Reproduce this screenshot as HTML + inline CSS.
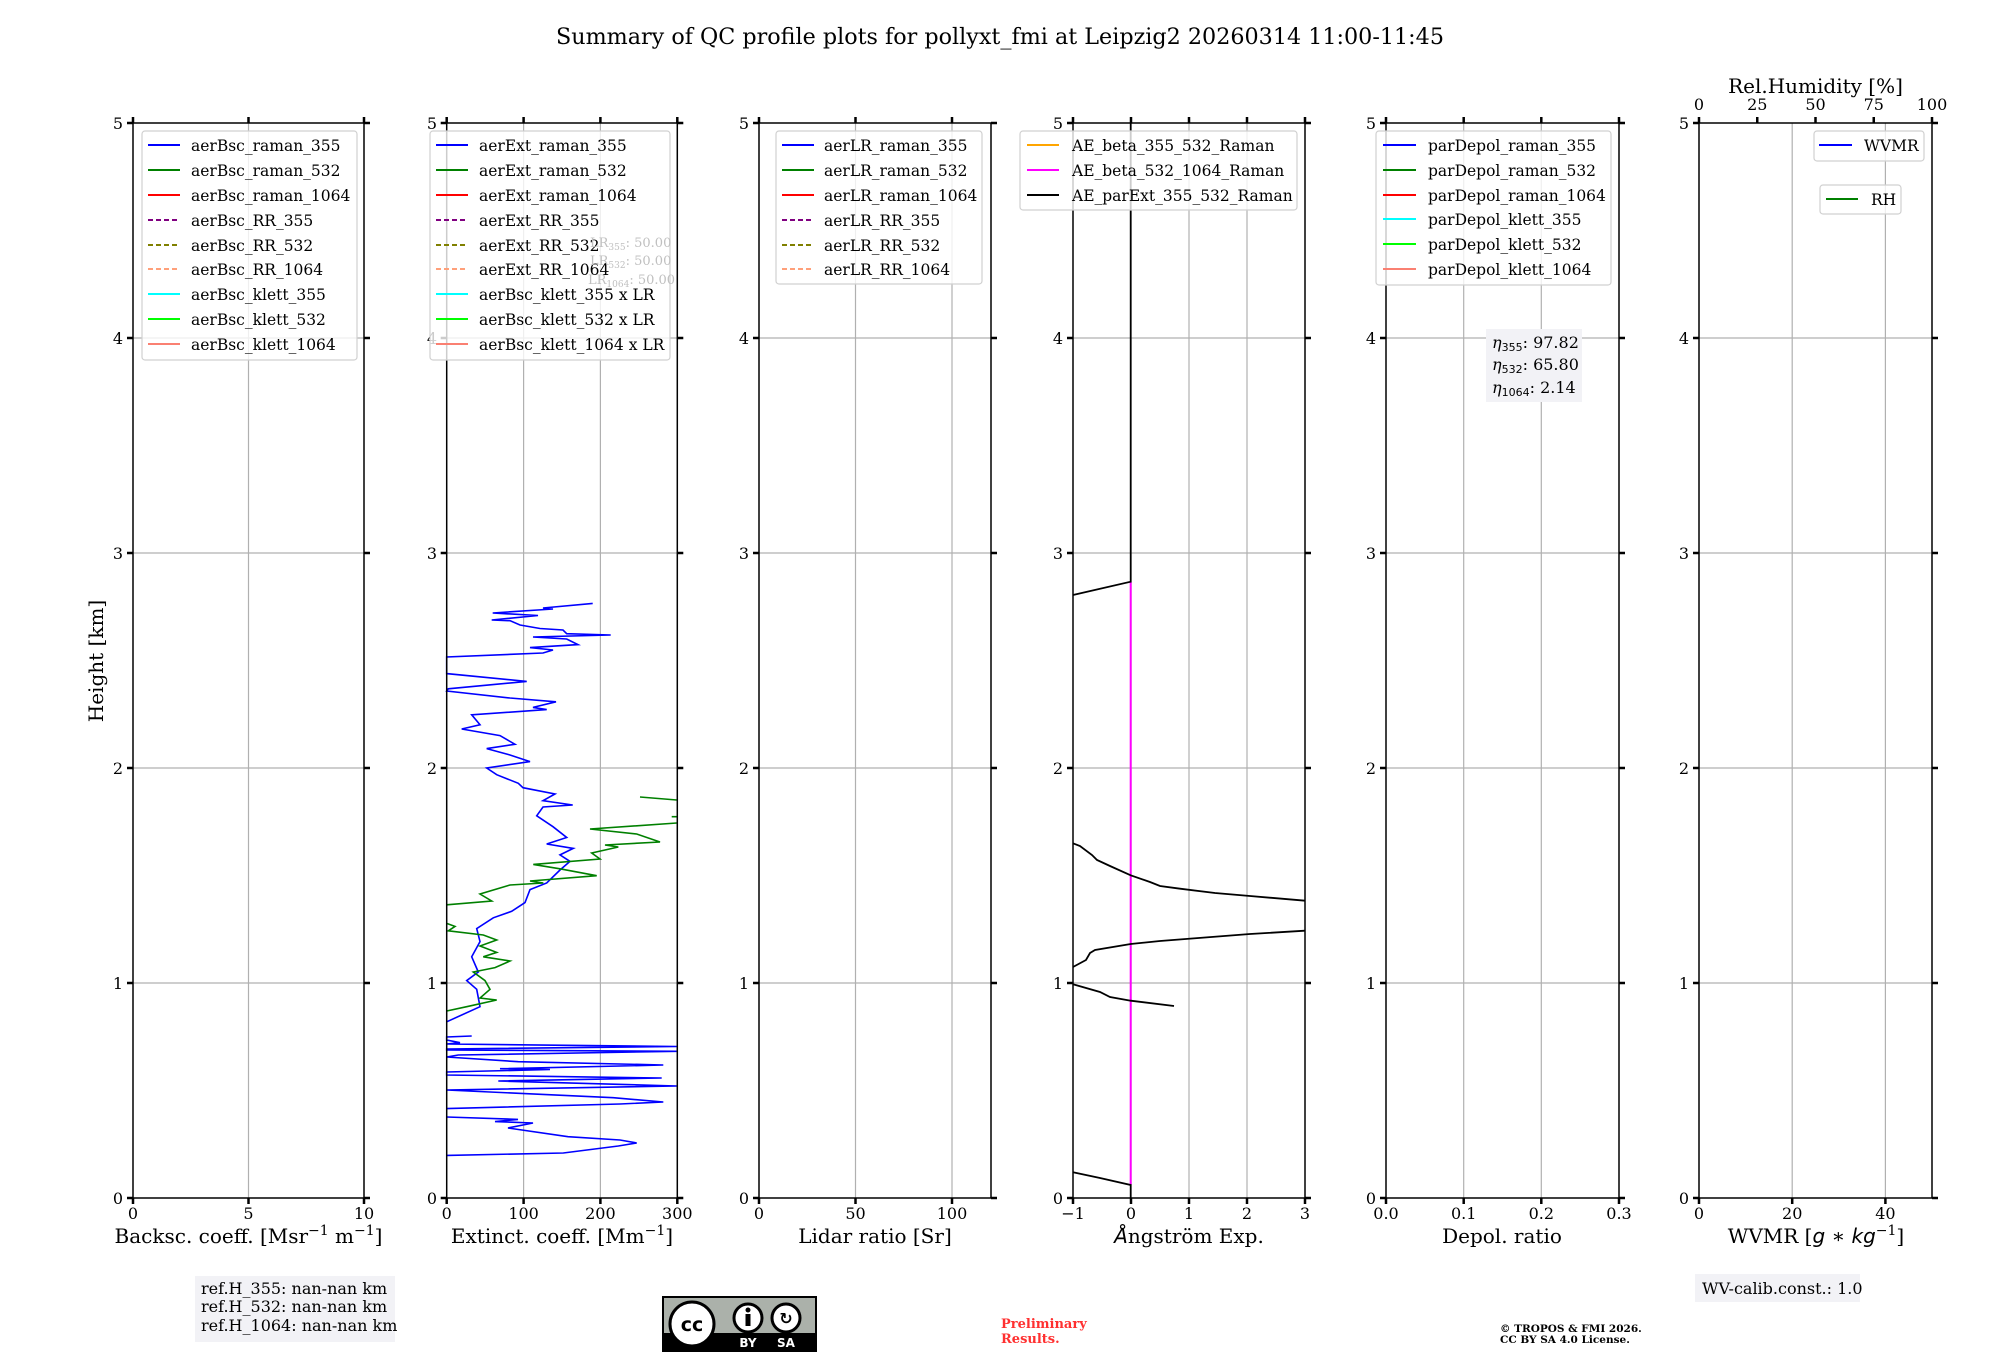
<!DOCTYPE html>
<html><head><meta charset="utf-8"><style>
html,body{margin:0;padding:0;background:#fff;}
svg{display:block;font-family:"DejaVu Serif","Liberation Serif",serif;}
.g{stroke:#b0b0b0;stroke-width:1.2;}
.sp{stroke:#000;stroke-width:1.5;fill:none;}
.tk{stroke:#000;stroke-width:2.5;}
.tl{font-size:16px;fill:#000;}
.lg{font-size:15.5px;fill:#000;}
.lb{fill:rgba(255,255,255,0.8);stroke:#d0d0d0;stroke-width:1.2;}
</style></head><body>
<svg width="2000" height="1360" viewBox="0 0 2000 1360" xmlns="http://www.w3.org/2000/svg">
<rect width="2000" height="1360" fill="#fff"/>
<text x="1000" y="44" text-anchor="middle" font-size="22" textLength="888" lengthAdjust="spacingAndGlyphs">Summary of QC profile plots for pollyxt_fmi at Leipzig2 20260314 11:00-11:45</text>
<text transform="translate(103,661) rotate(-90)" text-anchor="middle" font-size="20">Height [km]</text>

<!-- Panel 1 -->
<g>
<line class="g" x1="248.5" y1="123" x2="248.5" y2="1198"/>
<g class="g"><line x1="133" y1="983" x2="364" y2="983"/><line x1="133" y1="768" x2="364" y2="768"/><line x1="133" y1="553" x2="364" y2="553"/><line x1="133" y1="338" x2="364" y2="338"/></g>
<rect class="sp" x="133" y="123" width="231" height="1075"/>
<g class="tk">
<line x1="127" y1="1198" x2="133" y2="1198"/><line x1="127" y1="983" x2="133" y2="983"/><line x1="127" y1="768" x2="133" y2="768"/><line x1="127" y1="553" x2="133" y2="553"/><line x1="127" y1="338" x2="133" y2="338"/><line x1="127" y1="123" x2="133" y2="123"/>
<line x1="364" y1="1198" x2="370" y2="1198"/><line x1="364" y1="983" x2="370" y2="983"/><line x1="364" y1="768" x2="370" y2="768"/><line x1="364" y1="553" x2="370" y2="553"/><line x1="364" y1="338" x2="370" y2="338"/><line x1="364" y1="123" x2="370" y2="123"/>
<line x1="133" y1="1198" x2="133" y2="1204"/><line x1="248.5" y1="1198" x2="248.5" y2="1204"/><line x1="364" y1="1198" x2="364" y2="1204"/>
<line x1="133" y1="117" x2="133" y2="123"/><line x1="248.5" y1="117" x2="248.5" y2="123"/><line x1="364" y1="117" x2="364" y2="123"/>
</g>
<g class="tl" text-anchor="end"><text x="123" y="1204">0</text><text x="123" y="989">1</text><text x="123" y="774">2</text><text x="123" y="559">3</text><text x="123" y="344">4</text><text x="123" y="129">5</text></g>
<g class="tl" text-anchor="middle"><text x="133" y="1219">0</text><text x="248.5" y="1219">5</text><text x="364" y="1219">10</text></g>
<text x="248.5" y="1243" text-anchor="middle" font-size="20">Backsc. coeff. [Msr<tspan dy="-8" font-size="14">−1</tspan><tspan dy="8"> m</tspan><tspan dy="-8" font-size="14">−1</tspan><tspan dy="8">]</tspan></text>
<rect class="lb" x="142" y="131" width="215" height="229" rx="3"/>
<g stroke-width="2">
<line x1="148" y1="145" x2="180" y2="145" stroke="#0000ff"/>
<line x1="148" y1="170" x2="180" y2="170" stroke="#008000"/>
<line x1="148" y1="195" x2="180" y2="195" stroke="#ff0000"/>
<line x1="148" y1="220" x2="180" y2="220" stroke="#800080" stroke-dasharray="5,3"/>
<line x1="148" y1="245" x2="180" y2="245" stroke="#808000" stroke-dasharray="5,3"/>
<line x1="148" y1="269" x2="180" y2="269" stroke="#ffa07a" stroke-dasharray="5,3"/>
<line x1="148" y1="294" x2="180" y2="294" stroke="#00ffff"/>
<line x1="148" y1="319" x2="180" y2="319" stroke="#00ff00"/>
<line x1="148" y1="344" x2="180" y2="344" stroke="#fa8072"/>
</g>
<g class="lg"><text x="191" y="151">aerBsc_raman_355</text><text x="191" y="176">aerBsc_raman_532</text><text x="191" y="201">aerBsc_raman_1064</text><text x="191" y="226">aerBsc_RR_355</text><text x="191" y="251">aerBsc_RR_532</text><text x="191" y="275">aerBsc_RR_1064</text><text x="191" y="300">aerBsc_klett_355</text><text x="191" y="325">aerBsc_klett_532</text><text x="191" y="350">aerBsc_klett_1064</text></g>
</g>

<!-- Panel 2 -->
<g>
<g class="g"><line x1="523.6" y1="123" x2="523.6" y2="1198"/><line x1="600.4" y1="123" x2="600.4" y2="1198"/>
<line x1="446.7" y1="983" x2="677.3" y2="983"/><line x1="446.7" y1="768" x2="677.3" y2="768"/><line x1="446.7" y1="553" x2="677.3" y2="553"/><line x1="446.7" y1="338" x2="677.3" y2="338"/></g>
<polyline fill="none" stroke="#0000ff" stroke-width="1.6" points="592.7,603.4 543,608 553,609 492.7,613 538,615.5 491.7,620 510,620.7 520,625 540,628.5 563,630 566.7,633.7 610.7,635 533,637 566.7,639 578,644.6 530,647.6 553,650 543,653 446.7,657 446.7,673.6 526.7,681.4 448.3,688.8 446.7,691 510,698 556,701.8 533,707.4 546.7,709.6 471.7,714.8 480,724.8 461.7,729 500,735.6 515,744.3 486.7,748.6 510,755 530,761.6 486.7,768 496.7,774.7 518.3,783.3 523,787.7 555,794 543,800.7 572.7,805 543,807 536.7,815.8 553,826.7 566.7,837.5 546.7,844 573.3,848.4 560,854.9 570,861.4 560,870 546.7,883 530,889.6 525,902.6 511.7,911.3 493.3,917.8 476.7,928.6 480,941.6 471.7,956.8 478.3,972 466.7,980.6 476.7,989.3 480,1006.7 446.7,1021.8"/>
<polyline fill="none" stroke="#0000ff" stroke-width="1.6" points="471.7,1036 446.7,1037 446.7,1040 460,1042.7 446.7,1044 676.7,1046.5 446.7,1049 446.7,1050 676.7,1051.3 458.3,1055 446.7,1057 518.3,1061.7 663.3,1065 500,1068.7 550,1069.5 446.7,1072 446.7,1075 661.7,1078 498.3,1081 676.7,1086 446.7,1090 613.3,1097.7 663.3,1102 620,1104 446.7,1108.6"/>
<polyline fill="none" stroke="#0000ff" stroke-width="1.6" points="446.7,1117 518,1119.4 495,1121.6 533,1123 508,1128 568,1136.7 620,1140 636.7,1143 618.3,1146 563.3,1153 446.7,1155.4"/>
<polyline fill="none" stroke="#008000" stroke-width="1.6" points="640,797 676.7,800"/>
<polyline fill="none" stroke="#008000" stroke-width="1.6" points="671.7,816.7 676.7,816.7"/>
<polyline fill="none" stroke="#008000" stroke-width="1.6" points="676.7,823 590,829 636.7,834 660,842 605,845 618.3,847 591.7,853 600,859 533.3,864.4 560,868.8 596.7,875.7 530,881 543.3,883 510,885 480,894 491.7,901 446.7,904.8"/>
<polyline fill="none" stroke="#008000" stroke-width="1.6" points="446.7,923.4 455,926.4 448.3,930.8 483.3,935 496.7,940 480,946 496.7,952.4 483.3,956.8 510,961 495,967.6 473.3,972 485,980.6 490,989.3 480,998 496.7,1000 466.7,1006.7 446.7,1011"/>
<rect class="sp" x="446.7" y="123" width="230.6" height="1075"/>
<g class="tk">
<line x1="440.7" y1="1198" x2="446.7" y2="1198"/><line x1="440.7" y1="983" x2="446.7" y2="983"/><line x1="440.7" y1="768" x2="446.7" y2="768"/><line x1="440.7" y1="553" x2="446.7" y2="553"/><line x1="440.7" y1="338" x2="446.7" y2="338"/><line x1="440.7" y1="123" x2="446.7" y2="123"/>
<line x1="677.3" y1="1198" x2="683.3" y2="1198"/><line x1="677.3" y1="983" x2="683.3" y2="983"/><line x1="677.3" y1="768" x2="683.3" y2="768"/><line x1="677.3" y1="553" x2="683.3" y2="553"/><line x1="677.3" y1="338" x2="683.3" y2="338"/><line x1="677.3" y1="123" x2="683.3" y2="123"/>
<line x1="446.7" y1="1198" x2="446.7" y2="1204"/><line x1="523.6" y1="1198" x2="523.6" y2="1204"/><line x1="600.4" y1="1198" x2="600.4" y2="1204"/><line x1="677.3" y1="1198" x2="677.3" y2="1204"/>
<line x1="446.7" y1="117" x2="446.7" y2="123"/><line x1="523.6" y1="117" x2="523.6" y2="123"/><line x1="600.4" y1="117" x2="600.4" y2="123"/><line x1="677.3" y1="117" x2="677.3" y2="123"/>
</g>
<g class="tl" text-anchor="end"><text x="437" y="1204">0</text><text x="437" y="989">1</text><text x="437" y="774">2</text><text x="437" y="559">3</text><text x="437" y="344">4</text><text x="437" y="129">5</text></g>
<g class="tl" text-anchor="middle"><text x="446.7" y="1219">0</text><text x="523.6" y="1219">100</text><text x="600.4" y="1219">200</text><text x="677.3" y="1219">300</text></g>
<text x="562" y="1243" text-anchor="middle" font-size="20">Extinct. coeff. [Mm<tspan dy="-8" font-size="14">−1</tspan><tspan dy="8">]</tspan></text>
<rect class="lb" x="430" y="131" width="240" height="229" rx="3"/>
<g stroke-width="2">
<line x1="436" y1="145" x2="468" y2="145" stroke="#0000ff"/>
<line x1="436" y1="170" x2="468" y2="170" stroke="#008000"/>
<line x1="436" y1="195" x2="468" y2="195" stroke="#ff0000"/>
<line x1="436" y1="220" x2="468" y2="220" stroke="#800080" stroke-dasharray="5,3"/>
<line x1="436" y1="245" x2="468" y2="245" stroke="#808000" stroke-dasharray="5,3"/>
<line x1="436" y1="269" x2="468" y2="269" stroke="#ffa07a" stroke-dasharray="5,3"/>
<line x1="436" y1="294" x2="468" y2="294" stroke="#00ffff"/>
<line x1="436" y1="319" x2="468" y2="319" stroke="#00ff00"/>
<line x1="436" y1="344" x2="468" y2="344" stroke="#fa8072"/>
</g>
<g class="lg"><text x="479" y="151">aerExt_raman_355</text><text x="479" y="176">aerExt_raman_532</text><text x="479" y="201">aerExt_raman_1064</text><text x="479" y="226">aerExt_RR_355</text><text x="479" y="251">aerExt_RR_532</text><text x="479" y="275">aerExt_RR_1064</text><text x="479" y="300">aerBsc_klett_355 x LR</text><text x="479" y="325">aerBsc_klett_532 x LR</text><text x="479" y="350">aerBsc_klett_1064 x LR</text></g>
<g font-size="13" fill="#c0c0c0"><text x="590" y="247">LR<tspan font-size="9" dy="3">355</tspan><tspan dy="-3">: 50.00</tspan></text><text x="590" y="265">LR<tspan font-size="9" dy="3">532</tspan><tspan dy="-3">: 50.00</tspan></text><text x="588" y="284">LR<tspan font-size="9" dy="3">1064</tspan><tspan dy="-3">: 50.00</tspan></text></g>
</g>

<!-- Panel 3 -->
<g>
<g class="g"><line x1="855.5" y1="123" x2="855.5" y2="1198"/><line x1="952" y1="123" x2="952" y2="1198"/>
<line x1="759" y1="983" x2="991" y2="983"/><line x1="759" y1="768" x2="991" y2="768"/><line x1="759" y1="553" x2="991" y2="553"/><line x1="759" y1="338" x2="991" y2="338"/></g>
<rect class="sp" x="759" y="123" width="232" height="1075"/>
<g class="tk">
<line x1="753" y1="1198" x2="759" y2="1198"/><line x1="753" y1="983" x2="759" y2="983"/><line x1="753" y1="768" x2="759" y2="768"/><line x1="753" y1="553" x2="759" y2="553"/><line x1="753" y1="338" x2="759" y2="338"/><line x1="753" y1="123" x2="759" y2="123"/>
<line x1="991" y1="1198" x2="997" y2="1198"/><line x1="991" y1="983" x2="997" y2="983"/><line x1="991" y1="768" x2="997" y2="768"/><line x1="991" y1="553" x2="997" y2="553"/><line x1="991" y1="338" x2="997" y2="338"/><line x1="991" y1="123" x2="997" y2="123"/>
<line x1="759" y1="1198" x2="759" y2="1204"/><line x1="855.5" y1="1198" x2="855.5" y2="1204"/><line x1="952" y1="1198" x2="952" y2="1204"/>
<line x1="759" y1="117" x2="759" y2="123"/><line x1="855.5" y1="117" x2="855.5" y2="123"/><line x1="952" y1="117" x2="952" y2="123"/>
</g>
<g class="tl" text-anchor="end"><text x="749" y="1204">0</text><text x="749" y="989">1</text><text x="749" y="774">2</text><text x="749" y="559">3</text><text x="749" y="344">4</text><text x="749" y="129">5</text></g>
<g class="tl" text-anchor="middle"><text x="759" y="1219">0</text><text x="855.5" y="1219">50</text><text x="952" y="1219">100</text></g>
<text x="875" y="1243" text-anchor="middle" font-size="20">Lidar ratio [Sr]</text>
<rect class="lb" x="776" y="131" width="206" height="153" rx="3"/>
<g stroke-width="2">
<line x1="782" y1="145" x2="814" y2="145" stroke="#0000ff"/>
<line x1="782" y1="170" x2="814" y2="170" stroke="#008000"/>
<line x1="782" y1="195" x2="814" y2="195" stroke="#ff0000"/>
<line x1="782" y1="220" x2="814" y2="220" stroke="#800080" stroke-dasharray="5,3"/>
<line x1="782" y1="245" x2="814" y2="245" stroke="#808000" stroke-dasharray="5,3"/>
<line x1="782" y1="269" x2="814" y2="269" stroke="#ffa07a" stroke-dasharray="5,3"/>
</g>
<g class="lg"><text x="824" y="151">aerLR_raman_355</text><text x="824" y="176">aerLR_raman_532</text><text x="824" y="201">aerLR_raman_1064</text><text x="824" y="226">aerLR_RR_355</text><text x="824" y="251">aerLR_RR_532</text><text x="824" y="275">aerLR_RR_1064</text></g>
</g>

<!-- Panel 4 -->
<g>
<g class="g"><line x1="1131" y1="123" x2="1131" y2="1198"/><line x1="1189" y1="123" x2="1189" y2="1198"/><line x1="1247" y1="123" x2="1247" y2="1198"/>
<line x1="1073" y1="983" x2="1305" y2="983"/><line x1="1073" y1="768" x2="1305" y2="768"/><line x1="1073" y1="553" x2="1305" y2="553"/><line x1="1073" y1="338" x2="1305" y2="338"/></g>
<line x1="1130.7" y1="582" x2="1130.7" y2="1185" stroke="#ff00ff" stroke-width="2"/>
<g fill="none" stroke="#000" stroke-width="1.8">
<polyline points="1130.7,123 1130.7,581.7 1073,595"/>
<polyline points="1073,843.3 1080,846 1092,855 1097,860 1110,866 1130.7,875.3 1150,882 1160,886 1180,888.7 1215,893 1250,896 1305,900.7"/>
<polyline points="1305,930.7 1250,934 1160,941 1130.7,944 1095,950 1090,953 1086,960 1073,967"/>
<polyline points="1073,984.3 1100,992 1110,997 1130.7,1000.7 1174,1006"/>
<polyline points="1073,1172.3 1100,1178 1130.7,1185 1130.7,1198"/>
</g>
<rect class="sp" x="1073" y="123" width="232" height="1075"/>
<g class="tk">
<line x1="1067" y1="1198" x2="1073" y2="1198"/><line x1="1067" y1="983" x2="1073" y2="983"/><line x1="1067" y1="768" x2="1073" y2="768"/><line x1="1067" y1="553" x2="1073" y2="553"/><line x1="1067" y1="338" x2="1073" y2="338"/><line x1="1067" y1="123" x2="1073" y2="123"/>
<line x1="1305" y1="1198" x2="1311" y2="1198"/><line x1="1305" y1="983" x2="1311" y2="983"/><line x1="1305" y1="768" x2="1311" y2="768"/><line x1="1305" y1="553" x2="1311" y2="553"/><line x1="1305" y1="338" x2="1311" y2="338"/><line x1="1305" y1="123" x2="1311" y2="123"/>
<line x1="1073" y1="1198" x2="1073" y2="1204"/><line x1="1131" y1="1198" x2="1131" y2="1204"/><line x1="1189" y1="1198" x2="1189" y2="1204"/><line x1="1247" y1="1198" x2="1247" y2="1204"/><line x1="1305" y1="1198" x2="1305" y2="1204"/>
<line x1="1073" y1="117" x2="1073" y2="123"/><line x1="1131" y1="117" x2="1131" y2="123"/><line x1="1189" y1="117" x2="1189" y2="123"/><line x1="1247" y1="117" x2="1247" y2="123"/><line x1="1305" y1="117" x2="1305" y2="123"/>
</g>
<g class="tl" text-anchor="end"><text x="1063" y="1204">0</text><text x="1063" y="989">1</text><text x="1063" y="774">2</text><text x="1063" y="559">3</text><text x="1063" y="344">4</text><text x="1063" y="129">5</text></g>
<g class="tl" text-anchor="middle"><text x="1073" y="1219">−1</text><text x="1131" y="1219">0</text><text x="1189" y="1219">1</text><text x="1247" y="1219">2</text><text x="1305" y="1219">3</text></g>
<text x="1189" y="1243" text-anchor="middle" font-size="20"><tspan font-style="italic" font-family="DejaVu Sans, sans-serif">Å</tspan>ngström Exp.</text>
<rect class="lb" x="1020" y="131" width="277" height="79" rx="3"/>
<g stroke-width="2">
<line x1="1027" y1="145" x2="1059" y2="145" stroke="#ffa500"/>
<line x1="1027" y1="170" x2="1059" y2="170" stroke="#ff00ff"/>
<line x1="1027" y1="195" x2="1059" y2="195" stroke="#000"/>
</g>
<g class="lg"><text x="1072" y="151">AE_beta_355_532_Raman</text><text x="1072" y="176">AE_beta_532_1064_Raman</text><text x="1072" y="201">AE_parExt_355_532_Raman</text></g>
</g>

<!-- Panel 5 -->
<g>
<g class="g"><line x1="1463.7" y1="123" x2="1463.7" y2="1198"/><line x1="1541.3" y1="123" x2="1541.3" y2="1198"/>
<line x1="1386" y1="983" x2="1619" y2="983"/><line x1="1386" y1="768" x2="1619" y2="768"/><line x1="1386" y1="553" x2="1619" y2="553"/><line x1="1386" y1="338" x2="1619" y2="338"/></g>
<rect class="sp" x="1386" y="123" width="233" height="1075"/>
<g class="tk">
<line x1="1380" y1="1198" x2="1386" y2="1198"/><line x1="1380" y1="983" x2="1386" y2="983"/><line x1="1380" y1="768" x2="1386" y2="768"/><line x1="1380" y1="553" x2="1386" y2="553"/><line x1="1380" y1="338" x2="1386" y2="338"/><line x1="1380" y1="123" x2="1386" y2="123"/>
<line x1="1619" y1="1198" x2="1625" y2="1198"/><line x1="1619" y1="983" x2="1625" y2="983"/><line x1="1619" y1="768" x2="1625" y2="768"/><line x1="1619" y1="553" x2="1625" y2="553"/><line x1="1619" y1="338" x2="1625" y2="338"/><line x1="1619" y1="123" x2="1625" y2="123"/>
<line x1="1386" y1="1198" x2="1386" y2="1204"/><line x1="1463.7" y1="1198" x2="1463.7" y2="1204"/><line x1="1541.3" y1="1198" x2="1541.3" y2="1204"/><line x1="1619" y1="1198" x2="1619" y2="1204"/>
<line x1="1386" y1="117" x2="1386" y2="123"/><line x1="1463.7" y1="117" x2="1463.7" y2="123"/><line x1="1541.3" y1="117" x2="1541.3" y2="123"/><line x1="1619" y1="117" x2="1619" y2="123"/>
</g>
<g class="tl" text-anchor="end"><text x="1376" y="1204">0</text><text x="1376" y="989">1</text><text x="1376" y="774">2</text><text x="1376" y="559">3</text><text x="1376" y="344">4</text><text x="1376" y="129">5</text></g>
<g class="tl" text-anchor="middle"><text x="1386" y="1219">0.0</text><text x="1463.7" y="1219">0.1</text><text x="1541.3" y="1219">0.2</text><text x="1619" y="1219">0.3</text></g>
<text x="1502" y="1243" text-anchor="middle" font-size="20">Depol. ratio</text>
<rect class="lb" x="1376" y="131" width="235" height="154" rx="3"/>
<g stroke-width="2">
<line x1="1383" y1="145" x2="1416" y2="145" stroke="#0000ff"/>
<line x1="1383" y1="170" x2="1416" y2="170" stroke="#008000"/>
<line x1="1383" y1="195" x2="1416" y2="195" stroke="#ff0000"/>
<line x1="1383" y1="219" x2="1416" y2="219" stroke="#00ffff"/>
<line x1="1383" y1="244" x2="1416" y2="244" stroke="#00ff00"/>
<line x1="1383" y1="269" x2="1416" y2="269" stroke="#fa8072"/>
</g>
<g class="lg"><text x="1428" y="151">parDepol_raman_355</text><text x="1428" y="176">parDepol_raman_532</text><text x="1428" y="201">parDepol_raman_1064</text><text x="1428" y="225">parDepol_klett_355</text><text x="1428" y="250">parDepol_klett_532</text><text x="1428" y="275">parDepol_klett_1064</text></g>
<rect x="1486" y="329" width="96" height="73" fill="#f2f2f6"/>
<g font-size="16"><text x="1492" y="348"><tspan font-style="italic">η</tspan><tspan font-size="11" dy="3" font-family="DejaVu Sans">355</tspan><tspan dy="-3">: 97.82</tspan></text>
<text x="1492" y="370"><tspan font-style="italic">η</tspan><tspan font-size="11" dy="3" font-family="DejaVu Sans">532</tspan><tspan dy="-3">: 65.80</tspan></text>
<text x="1492" y="393"><tspan font-style="italic">η</tspan><tspan font-size="11" dy="3" font-family="DejaVu Sans">1064</tspan><tspan dy="-3">: 2.14</tspan></text></g>
</g>

<!-- Panel 6 -->
<g>
<g class="g"><line x1="1792.2" y1="123" x2="1792.2" y2="1198"/><line x1="1885.4" y1="123" x2="1885.4" y2="1198"/>
<line x1="1699" y1="983" x2="1932" y2="983"/><line x1="1699" y1="768" x2="1932" y2="768"/><line x1="1699" y1="553" x2="1932" y2="553"/><line x1="1699" y1="338" x2="1932" y2="338"/></g>
<rect class="sp" x="1699" y="123" width="233" height="1075"/>
<g class="tk">
<line x1="1693" y1="1198" x2="1699" y2="1198"/><line x1="1693" y1="983" x2="1699" y2="983"/><line x1="1693" y1="768" x2="1699" y2="768"/><line x1="1693" y1="553" x2="1699" y2="553"/><line x1="1693" y1="338" x2="1699" y2="338"/><line x1="1693" y1="123" x2="1699" y2="123"/>
<line x1="1932" y1="1198" x2="1938" y2="1198"/><line x1="1932" y1="983" x2="1938" y2="983"/><line x1="1932" y1="768" x2="1938" y2="768"/><line x1="1932" y1="553" x2="1938" y2="553"/><line x1="1932" y1="338" x2="1938" y2="338"/><line x1="1932" y1="123" x2="1938" y2="123"/>
<line x1="1699" y1="1198" x2="1699" y2="1204"/><line x1="1792.2" y1="1198" x2="1792.2" y2="1204"/><line x1="1885.4" y1="1198" x2="1885.4" y2="1204"/>
<line x1="1699" y1="117" x2="1699" y2="123"/><line x1="1757.25" y1="117" x2="1757.25" y2="123"/><line x1="1815.5" y1="117" x2="1815.5" y2="123"/><line x1="1873.75" y1="117" x2="1873.75" y2="123"/><line x1="1932" y1="117" x2="1932" y2="123"/>
</g>
<g class="tl" text-anchor="end"><text x="1689" y="1204">0</text><text x="1689" y="989">1</text><text x="1689" y="774">2</text><text x="1689" y="559">3</text><text x="1689" y="344">4</text><text x="1689" y="129">5</text></g>
<g class="tl" text-anchor="middle"><text x="1699" y="1219">0</text><text x="1792.2" y="1219">20</text><text x="1885.4" y="1219">40</text></g>
<g class="tl" text-anchor="middle"><text x="1699" y="110">0</text><text x="1757.25" y="110">25</text><text x="1815.5" y="110">50</text><text x="1873.75" y="110">75</text><text x="1932" y="110">100</text></g>
<text x="1815.5" y="93" text-anchor="middle" font-size="20">Rel.Humidity [%]</text>
<text x="1816" y="1243" text-anchor="middle" font-size="20">WVMR [<tspan font-style="italic" font-family="DejaVu Sans">g</tspan> ∗ <tspan font-style="italic" font-family="DejaVu Sans">kg</tspan><tspan dy="-8" font-size="14">−1</tspan><tspan dy="8">]</tspan></text>
<rect class="lb" x="1814" y="131" width="110" height="30" rx="3"/>
<line x1="1819" y1="145" x2="1852" y2="145" stroke="#0000ff" stroke-width="2"/>
<text class="lg" x="1864" y="151">WVMR</text>
<rect class="lb" x="1820" y="185" width="81" height="29" rx="3"/>
<line x1="1826" y1="199" x2="1858" y2="199" stroke="#008000" stroke-width="2"/>
<text class="lg" x="1871" y="205">RH</text>
</g>

<!-- Footer -->
<rect x="195" y="1276" width="200" height="66" fill="#f2f2f6"/>
<g font-size="16"><text x="201" y="1294">ref.H_355: nan-nan km</text><text x="201" y="1312">ref.H_532: nan-nan km</text><text x="201" y="1331">ref.H_1064: nan-nan km</text></g>

<g>
<rect x="662" y="1296" width="155" height="56" fill="#000"/>
<rect x="664" y="1298" width="151" height="35" fill="#abb1aa"/>
<circle cx="692" cy="1324" r="22" fill="#fff" stroke="#000" stroke-width="3"/>
<text x="692" y="1331" text-anchor="middle" font-family="DejaVu Sans,sans-serif" font-weight="bold" font-size="19">cc</text>
<circle cx="748" cy="1318" r="14" fill="#fff" stroke="#000" stroke-width="3"/>
<rect x="745.5" y="1314" width="5" height="12" fill="#000"/><circle cx="748" cy="1310" r="2.5" fill="#000"/>
<circle cx="786" cy="1318" r="14" fill="#fff" stroke="#000" stroke-width="3"/>
<text x="786" y="1324" text-anchor="middle" font-family="DejaVu Sans,sans-serif" font-weight="bold" font-size="16">↻</text>
<text x="748" y="1347" text-anchor="middle" fill="#fff" font-family="DejaVu Sans,sans-serif" font-weight="bold" font-size="12">BY</text>
<text x="786" y="1347" text-anchor="middle" fill="#fff" font-family="DejaVu Sans,sans-serif" font-weight="bold" font-size="12">SA</text>
</g>

<g font-size="13" font-weight="bold" fill="#ff3030"><text x="1001" y="1328">Preliminary</text><text x="1001" y="1343">Results.</text></g>
<rect x="1695" y="1274" width="165" height="28" fill="#f2f2f6"/>
<text x="1702" y="1294" font-size="16">WV-calib.const.: 1.0</text>
<g font-size="10.5" font-weight="bold"><text x="1500" y="1332">© TROPOS &amp; FMI 2026.</text><text x="1500" y="1343">CC BY SA 4.0 License.</text></g>
</svg>
</body></html>
